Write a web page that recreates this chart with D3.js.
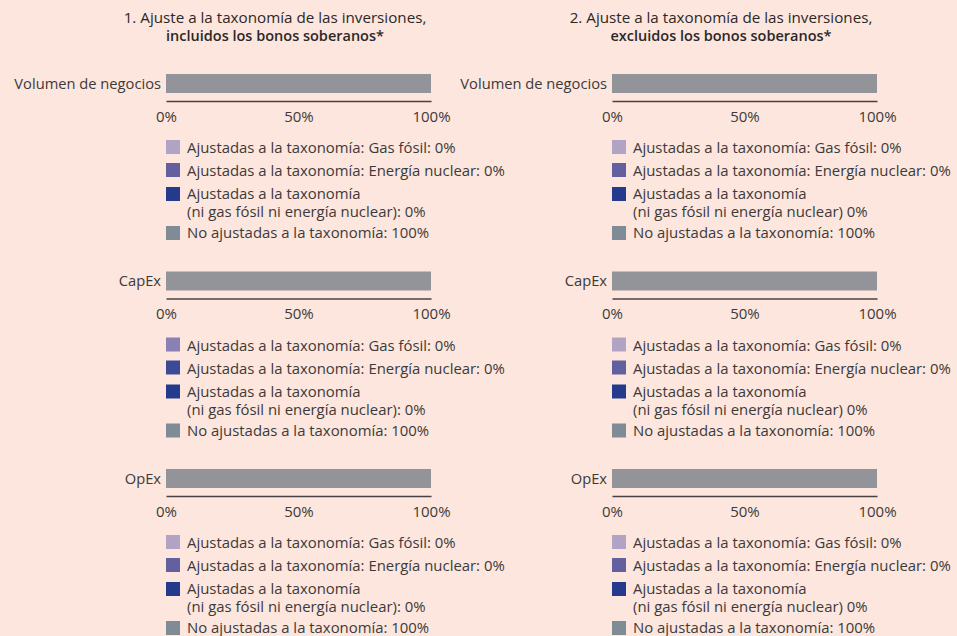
<!DOCTYPE html>
<html>
<head>
<meta charset="utf-8">
<script src="https://cdn.jsdelivr.net/npm/d3@7"></script>
<style>
  body { margin: 0; background: #fce6dd; }
  svg { display: block; font-family: "Open Sans", "Noto Sans", sans-serif; }
</style>
</head>
<body>
<svg width="957" height="636"></svg>
<script>
// data
const categories = ["Volumen de negocios", "CapEx", "OpEx"];
const seriesNames = ["gas", "nuclear", "otras", "noAjustadas"];
const gasValues = [0, 0, 0];
const nuclearValues = [0, 0, 0];
const otherValues = [0, 0, 0];
const notAlignedValues = [100, 100, 100];
const tickValues = [0, 50, 100];
const panelTitles = [
  ["1. Ajuste a la taxonomía de las inversiones,", "incluidos los bonos soberanos*"],
  ["2. Ajuste a la taxonomía de las inversiones,", "excluidos los bonos soberanos*"]
];
const otherSep = [":", ""]; // left panel writes "):", right one just ")"

const barColors = ["#b1a3c4", "#6360a0", "#243a8c", "#939499"];
const legendColors = ["#b1a3c4", "#6360a0", "#243a8c", "#7f8c96"];
const legendColorsAlt = ["#8a80b4", "#3c4a96", "#243a8c", "#7f8c96"]; // left CapEx block

const svg = d3.select("svg");
const textColor = "#3d3a3a";

const rows = categories.map((c, i) => ({
  name: c,
  gas: gasValues[i],
  nuclear: nuclearValues[i],
  otras: otherValues[i],
  noAjustadas: notAlignedValues[i]
}));
const stacked = d3.stack().keys(seriesNames)(rows);

const y = d3.scaleBand().domain(categories).range([74, 74 + 197.5 * 3]);
const barH = 19;

const panels = [
  { x0: 166, x1: 431, titleX: 275 },
  { x0: 612, x1: 877, titleX: 721 }
];

panels.forEach((p, pi) => {
  const x = d3.scaleLinear().domain([0, 100]).range([p.x0, p.x1]);
  const g = svg.append("g");

  //title
  const t = g.append("text")
    .attr("x", p.titleX)
    .attr("text-anchor", "middle")
    .attr("fill", "#2b2828");
  t.append("tspan").attr("x", p.titleX).attr("y", 23)
    .attr("font-size", 15.2).text(panelTitles[pi][0]);
  t.append("tspan").attr("x", p.titleX).attr("y", 41)
    .attr("font-size", 14.5)
    .attr("font-weight", 600).text(panelTitles[pi][1]);

  //bars
  g.selectAll(".serie")
    .data(stacked)
    .join("g")
    .attr("fill", (d, i) => barColors[i])
    .selectAll("rect")
    .data(d => d)
    .join("rect")
    .attr("x", d => x(d[0]))
    .attr("y", d => y(d.data.name))
    .attr("width", d => x(d[1]) - x(d[0]))
    .attr("height", barH);

  categories.forEach((cat, ci) => {
    const top = y(cat);

    //category label
    g.append("text")
      .attr("x", p.x0 - 5)
      .attr("y", top + barH / 2)
      .attr("dy", "0.35em")
      .attr("text-anchor", "end")
      .attr("font-size", 14.7)
      .attr("fill", textColor)
      .text(cat);

    //axis
    const axis = g.append("g")
      .attr("transform", `translate(0,${top + 27})`)
      .call(d3.axisBottom(x).tickValues(tickValues).tickSize(0).tickPadding(10)
        .tickFormat(d => d + "%"));
    axis.select(".domain").attr("stroke", "#4a4242").attr("stroke-width", 1.3);
    axis.selectAll("text")
      .attr("font-size", 15)
      .attr("font-family", "\"Open Sans\", sans-serif")
      .attr("fill", textColor);

    //legend
    const cols = (pi === 0 && ci === 1) ? legendColorsAlt : legendColors;
    const items = [
      { lines: [`Ajustadas a la taxonomía: Gas fósil: ${gasValues[ci]}%`], sy: 66, ty: 79 },
      { lines: [`Ajustadas a la taxonomía: Energía nuclear: ${nuclearValues[ci]}%`], sy: 89, ty: 102 },
      { lines: ["Ajustadas a la taxonomía",
                `(ni gas fósil ni energía nuclear)${otherSep[pi]} ${otherValues[ci]}%`], sy: 113, ty: 125 },
      { lines: [`No ajustadas a la taxonomía: ${notAlignedValues[ci]}%`], sy: 152, ty: 164 }
    ];
    const leg = g.append("g").selectAll("g").data(items).join("g");
    leg.append("rect")
      .attr("x", p.x0)
      .attr("y", d => top + d.sy)
      .attr("width", 14)
      .attr("height", 14)
      .attr("fill", (d, i) => cols[i]);
    leg.append("text")
      .attr("font-size", 14.9)
      .attr("fill", textColor)
      .selectAll("tspan")
      .data(d => d.lines.map((l, li) => ({ l, yy: top + d.ty + li * 18 })))
      .join("tspan")
      .attr("x", p.x0 + 21)
      .attr("y", d => d.yy)
      .text(d => d.l);
  });
});
</script>
</body>
</html>
